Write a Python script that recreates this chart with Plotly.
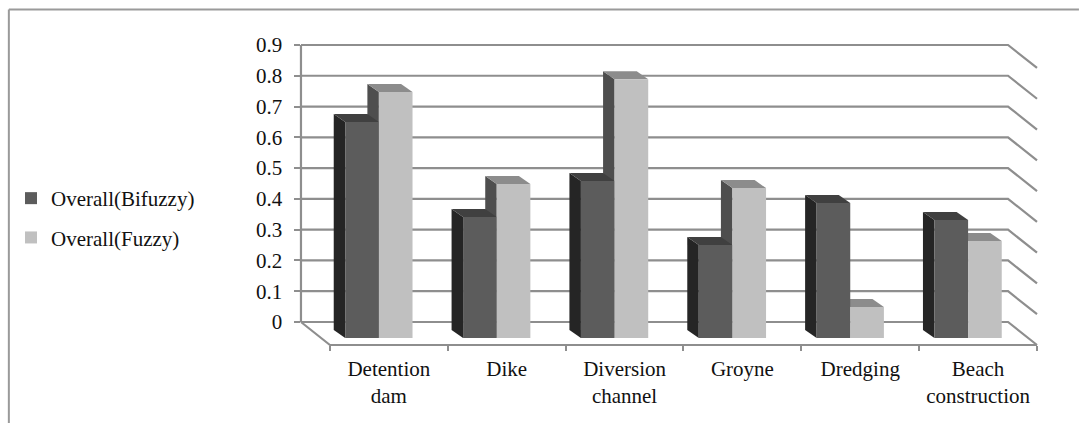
import plotly.graph_objects as go

categories = ["Detention<br>dam", "Dike", "Diversion<br>channel", "Groyne", "Dredging", "Beach<br>construction"]
bifuzzy = [0.702, 0.393, 0.510, 0.302, 0.439, 0.383]
fuzzy = [0.799, 0.500, 0.841, 0.487, 0.101, 0.315]
y_ticks = [0, 0.1, 0.2, 0.3, 0.4, 0.5, 0.6, 0.7, 0.8, 0.9]
y_labels = ["0", "0.1", "0.2", "0.3", "0.4", "0.5", "0.6", "0.7", "0.8", "0.9"]

W, H = 1079, 423
PL, PR, PT, PB = 280, 1042, 38, 350   # plot box in pixels
CAT_PX = 118.0
X0_PX = 329.0                          # pixel of category boundary 0
Y0_PX = 322.0                          # pixel of value 0 on the back wall
VAL_PX = 307.8                         # pixels per unit of value

def ux(px):
    return (px - X0_PX) / CAT_PX
def uy(py):
    return (Y0_PX - py) / VAL_PX

FLOOR_DX = 29.0 / CAT_PX
FLOOR_DY = 23.0 / VAL_PX
BAR_DX = 11.5 / CAT_PX
BAR_DY = 8.0 / VAL_PX
BASE = -16.0 / VAL_PX
SHIFT = -10.0 / CAT_PX
BAR_W = 33.7 / CAT_PX

GRID = "#8e8e8e"
TXT = "#111111"
FONT = "Liberation Serif"
FS = 21

n = len(categories)
centers = [i + 0.5 + SHIFT for i in range(n)]
wall_l, wall_r = -FLOOR_DX, n - FLOOR_DX

shapes = []

def line(xs, ys):
    path = "M" + " L".join(f"{a},{b}" for a, b in zip(xs, ys))
    shapes.append(dict(type="path", path=path, xref="x", yref="y", layer="below",
                       line=dict(color=GRID, width=2.2), fillcolor="rgba(0,0,0,0)"))

for t in y_ticks:
    line([wall_l, wall_r, n], [t, t, t - FLOOR_DY])
line([wall_l, wall_l], [y_ticks[0], y_ticks[-1]])
line([wall_l, 0, n], [0, -FLOOR_DY, -FLOOR_DY])

def poly(xs, ys, color):
    path = "M" + " L".join(f"{a},{b}" for a, b in zip(xs, ys)) + " Z"
    shapes.append(dict(type="path", path=path, xref="x", yref="y", layer="below",
                       line=dict(width=0), fillcolor=color))

def box_sides(x_left, value, side_color, top_color):
    top = BASE + value
    x_right = x_left + BAR_W
    poly([x_left - BAR_DX, x_left, x_left, x_left - BAR_DX],
         [BASE + BAR_DY, BASE, top, top + BAR_DY], side_color)
    poly([x_left, x_right, x_right - BAR_DX, x_left - BAR_DX],
         [top, top, top + BAR_DY, top + BAR_DY], top_color)

# Back-most pieces first: the Fuzzy sides sit behind the Bifuzzy bar.
for c, v in zip(centers, fuzzy):
    box_sides(c, v, "#4e4e4e", "#8c8c8c")
for c, v in zip(centers, bifuzzy):
    box_sides(c - BAR_W, v, "#252525", "#404040")

# Frame of the picture
def px_x(px):
    return (px - PL) / (PR - PL)
def px_y(py):
    return (PB - py) / (PB - PT)
shapes.append(dict(type="line", xref="paper", yref="paper", x0=px_x(7.5), x1=px_x(W), y0=px_y(9.5), y1=px_y(9.5),
                   line=dict(color="#9a9a9a", width=2)))
shapes.append(dict(type="line", xref="paper", yref="paper", x0=px_x(7.5), x1=px_x(7.5), y0=px_y(9.5), y1=px_y(H),
                   line=dict(color="#9a9a9a", width=2)))

fig = go.Figure()
fig.add_bar(name="Overall(Bifuzzy)", x=centers, y=bifuzzy, base=BASE, width=BAR_W, offset=-BAR_W,
            marker=dict(color="#5c5c5c", line=dict(width=0)), legendgroup="a")
fig.add_bar(name="Overall(Fuzzy)", x=centers, y=fuzzy, base=BASE, width=BAR_W, offset=0,
            marker=dict(color="#c0c0c0", line=dict(width=0)), legendgroup="b")

fig.update_layout(
    width=W, height=H, autosize=False,
    margin=dict(l=PL, r=W - PR, t=PT, b=H - PB, pad=0),
    paper_bgcolor="white", plot_bgcolor="white",
    barmode="overlay",
    shapes=shapes,
    font=dict(family=FONT, size=FS, color=TXT),
    legend=dict(x=px_x(11), y=px_y(178), xanchor="left", yanchor="top",
                font=dict(family=FONT, size=FS, color=TXT),
                tracegroupgap=9, bgcolor="rgba(0,0,0,0)"),
    xaxis=dict(range=[ux(PL), ux(PR)], anchor="free", position=px_y(345),
               showgrid=False, zeroline=False, showline=False,
               tickmode="array", tickvals=[i + 0.5 for i in range(n)], ticktext=categories,
               ticks="", tickangle=0, ticklabelstandoff=9,
               minor=dict(tickmode="array", tickvals=list(range(n + 1)), ticks="outside", ticklen=5,
                          tickwidth=1.5, tickcolor=GRID, showgrid=False),
               tickfont=dict(family=FONT, size=FS, color=TXT)),
    yaxis=dict(range=[uy(PB), uy(PT)], anchor="free", position=px_x(299.5),
               showgrid=False, zeroline=False, showline=False,
               tickmode="array", tickvals=y_ticks, ticktext=y_labels,
               ticks="outside", ticklen=6, tickwidth=2, tickcolor=GRID, ticklabelstandoff=8,
               tickfont=dict(family=FONT, size=FS, color=TXT)),
)
fig.write_html("out.html", config={"displayModeBar": False},
               post_script="document.body.style.margin='0';document.documentElement.style.overflow='hidden';")
